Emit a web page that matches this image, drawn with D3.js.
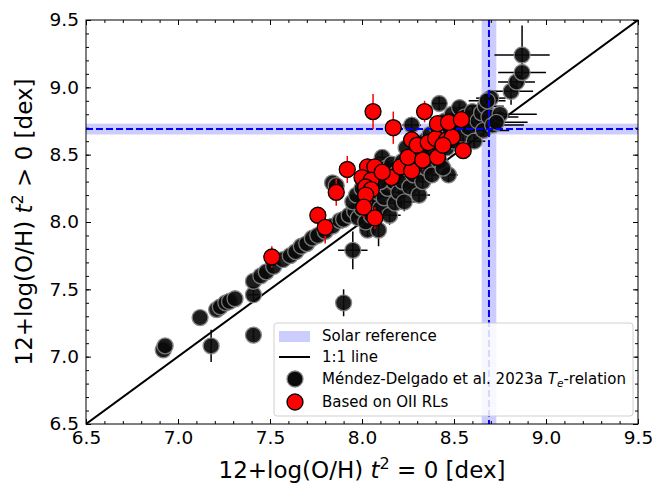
<!DOCTYPE html>
<html>
<head>
<meta charset="utf-8">
<script src="https://cdn.jsdelivr.net/npm/d3@7"></script>
<style>
  body { margin: 0; background: #fff; }
  text { font-family: "DejaVu Sans", sans-serif; }
</style>
</head>
<body>
<div id="chart-area"></div>
<script>
// data: [x, y, xerr, yerr]
var blackPoints = [
	[6.92,7.05,0,0],[6.93,7.08,0,0],[7.18,7.08,0,0.12],[7.41,7.16,0,0.04],
	[7.12,7.29,0,0],[7.21,7.35,0,0],[7.23,7.37,0,0],[7.26,7.40,0,0],
	[7.28,7.41,0,0],[7.31,7.43,0,0],[7.41,7.46,0.03,0.05],[7.41,7.56,0,0],
	[7.45,7.60,0,0],[7.48,7.63,0,0],[7.52,7.67,0,0],[7.57,7.72,0,0],
	[7.61,7.75,0,0],[7.64,7.78,0,0],[7.67,7.82,0,0],[7.70,7.84,0,0],
	[7.73,7.88,0,0],[7.76,7.90,0,0],[7.80,7.93,0,0],[7.84,7.97,0,0],
	[7.88,8.01,0,0],[7.90,7.40,0,0.1],[7.95,7.79,0.08,0.14],[8.03,7.94,0.04,0.05],
	[8.09,7.94,0,0.12],
	[7.84,8.29,0,0],[7.86,8.27,0,0.05],[7.90,8.02,0,0],[7.93,8.05,0.03,0.04],
	[7.96,8.08,0,0],[7.98,8.03,0.04,0.05],[8.00,8.10,0,0],[8.02,8.00,0.03,0.03],
	[8.04,8.12,0,0.04],[8.05,8.05,0.05,0.06],[7.95,8.15,0,0],[7.97,8.20,0,0],
	[8.00,8.25,0.03,0.03],[8.03,8.30,0,0],
	[8.07,8.15,0.04,0.05],[8.09,8.22,0,0],[8.10,8.10,0.05,0.05],[8.12,8.18,0.03,0.04],
	[8.14,8.25,0,0],[8.15,8.05,0.06,0.07],[8.17,8.30,0,0.04],[8.18,8.14,0.05,0.06],
	[8.20,8.22,0.04,0.05],[8.11,8.48,0.03,0.05],[8.13,8.40,0,0],[8.16,8.43,0.03,0.03],
	[8.19,8.36,0,0],[8.08,8.35,0,0],[8.10,8.30,0.03,0.03],
	[8.22,8.30,0.04,0.04],[8.23,8.15,0.06,0.07],[8.25,8.40,0,0],[8.26,8.26,0.05,0.05],
	[8.28,8.35,0.04,0.04],[8.29,8.50,0,0],[8.30,8.45,0.04,0.04],[8.31,8.20,0.06,0.06],
	[8.32,8.55,0,0],[8.33,8.30,0.05,0.05],[8.34,8.60,0.03,0.03],[8.27,8.72,0.05,0.06],
	[8.24,8.55,0,0],[8.35,8.40,0.05,0.05],[8.22,8.45,0,0],
	[8.36,8.50,0.04,0.04],[8.37,8.65,0,0],[8.38,8.35,0.06,0.06],[8.40,8.58,0.04,0.04],
	[8.41,8.70,0,0],[8.42,8.45,0.05,0.05],[8.43,8.62,0.04,0.04],[8.42,8.88,0.04,0.05],
	[8.45,8.75,0.05,0.04],[8.46,8.55,0,0],[8.47,8.35,0.05,0.06],[8.48,8.68,0.05,0.04],
	[8.49,8.80,0.04,0.04],[8.50,8.60,0.05,0.05],[8.44,8.40,0.04,0.04],
	[8.52,8.72,0.06,0.04],[8.53,8.85,0.05,0.04],[8.55,8.65,0.06,0.05],[8.56,8.78,0.05,0.04],
	[8.58,8.70,0.08,0.04],[8.60,8.82,0.07,0.04],[8.61,8.60,0.06,0.05],[8.63,8.75,0.1,0.04],
	[8.65,8.81,0.12,0.04],[8.66,8.68,0.14,0.04],[8.67,8.86,0.1,0.04],[8.69,8.78,0.16,0.04],
	[8.70,8.92,0.08,0.05],[8.71,8.72,0.17,0.04],[8.68,8.90,0.1,0.04],
	[8.75,8.80,0.2,0.03],[8.73,8.74,0.17,0.03],[8.81,8.97,0.12,0.1],[8.84,9.04,0.1,0.05],
	[8.87,9.11,0.13,0.05],[8.87,9.24,0.15,0.22]
];

var redPoints = [
	[7.51,7.74,0,0.08],[7.76,8.05,0.02,0.06],[7.80,7.96,0,0.12],[7.86,8.22,0.02,0.1],
	[7.92,8.39,0,0.1],[8.03,8.41,0,0.06],[8.07,8.41,0,0.06],[8.00,8.33,0.02,0.07],
	[8.05,8.31,0,0.06],[8.02,8.26,0,0.05],[8.05,8.24,0,0.1],[8.02,8.20,0.02,0.06],
	[8.01,8.11,0,0.08],[8.07,8.03,0,0.08],[8.06,8.82,0,0.13],[8.17,8.70,0.02,0.12],
	[8.34,8.82,0,0.08],[8.16,8.33,0.02,0.06],[8.21,8.41,0,0.06],[8.27,8.38,0,0.06],
	[8.25,8.48,0,0.06],[8.33,8.46,0,0.07],[8.41,8.48,0,0.06],[8.27,8.61,0,0.06],
	[8.30,8.57,0,0.05],[8.36,8.59,0,0.05],[8.40,8.62,0,0.05],[8.46,8.61,0,0.05],
	[8.49,8.63,0,0.05],[8.44,8.57,0,0.05],[8.41,8.73,0,0.05],[8.47,8.74,0,0.05],
	[8.54,8.76,0,0.05],[8.55,8.53,0,0.06],[8.11,8.37,0,0.05]
];

var solarValue = 8.69;
var solarErr = 0.04;
var oneToOne = [6.5, 9.5];
var majorTicks = [6.5, 7.0, 7.5, 8.0, 8.5, 9.0, 9.5];
var minorTicks = d3.range(65, 96).map(function(d){ return d / 10; });

var margin = {top: 20, left: 86, bottom: 59, right: 30};
var width = 668 - margin.left - margin.right;
var height = 483 - margin.top - margin.bottom;

var svg = d3.select("#chart-area")
	.append("svg")
		.attr("width", 668)
		.attr("height", 483);
var g = svg.append("g")
	.attr("transform", "translate(" + margin.left + ", " + margin.top + ")");

var x = d3.scaleLinear().domain([6.5, 9.5]).range([0, width]);
var y = d3.scaleLinear().domain([6.5, 9.5]).range([height, 0]);

g.append("clipPath").attr("id", "clip")
	.append("rect").attr("width", width).attr("height", height);
var plot = g.append("g").attr("clip-path", "url(#clip)");

// solar bands
plot.append("rect")
	.attr("x", 0).attr("width", width)
	.attr("y", y(solarValue + solarErr))
	.attr("height", y(solarValue - solarErr) - y(solarValue + solarErr))
	.attr("fill", "#ccccff");
plot.append("rect")
	.attr("y", 0).attr("height", height)
	.attr("x", x(solarValue - solarErr))
	.attr("width", x(solarValue + solarErr) - x(solarValue - solarErr))
	.attr("fill", "#ccccff");

// 1:1 line
plot.append("line")
	.attr("x1", x(oneToOne[0])).attr("y1", y(oneToOne[0]))
	.attr("x2", x(oneToOne[1])).attr("y2", y(oneToOne[1]))
	.attr("stroke", "#000").attr("stroke-width", 2);

function drawSeries(data, barColor, fill, edge, opacity) {
	var bars = plot.append("g").attr("stroke", barColor).attr("stroke-width", 1.5);
	data.forEach(function(d){
		if (d[2] > 0) bars.append("line")
			.attr("x1", x(d[0] - d[2])).attr("x2", x(d[0] + d[2]))
			.attr("y1", y(d[1])).attr("y2", y(d[1]));
		if (d[3] > 0) bars.append("line")
			.attr("x1", x(d[0])).attr("x2", x(d[0]))
			.attr("y1", y(d[1] - d[3])).attr("y2", y(d[1] + d[3]));
	});
	plot.append("g").selectAll("circle")
		.data(data)
		.enter()
		.append("circle")
			.attr("cx", function(d){ return x(d[0]); })
			.attr("cy", function(d){ return y(d[1]); })
			.attr("r", 8)
			.attr("fill", fill)
			.attr("stroke", edge)
			.attr("stroke-width", 1.3)
			.attr("opacity", opacity);
}

drawSeries(blackPoints, "#000", "#0a0a0a", "#808080", 0.92);

// solar dashed lines over black points
plot.append("line")
	.attr("x1", 0).attr("x2", width)
	.attr("y1", y(solarValue)).attr("y2", y(solarValue))
	.attr("stroke", "#0000ff").attr("stroke-width", 2).attr("stroke-dasharray", "7,3");
plot.append("line")
	.attr("x1", x(solarValue)).attr("x2", x(solarValue))
	.attr("y1", 0).attr("y2", height)
	.attr("stroke", "#0000ff").attr("stroke-width", 2).attr("stroke-dasharray", "7,3");

drawSeries(redPoints, "#ff0000", "#ff0000", "#000", 1);

// axes, inward ticks on all sides
function addAxis(axisFn, scale, transform, labels) {
	var major = axisFn(scale).tickValues(majorTicks).tickSizeOuter(0).tickSizeInner(-5)
		.tickPadding(7).tickFormat(labels ? d3.format(".1f") : "");
	var minor = axisFn(scale).tickValues(minorTicks).tickSizeOuter(0).tickSizeInner(-3).tickFormat("");
	var a = g.append("g").attr("transform", transform).call(minor);
	a.select(".domain").remove();
	var b = g.append("g").attr("transform", transform).call(major);
	b.select(".domain").remove();
	b.selectAll("text").attr("font-size", "18.5px").attr("fill", "#000")
		.attr("font-family", "DejaVu Sans");
	return b;
}
addAxis(d3.axisBottom, x, "translate(0," + height + ")", true);
addAxis(d3.axisLeft, y, "translate(0,0)", true);
addAxis(d3.axisTop, x, "translate(0,0)", false);
addAxis(d3.axisRight, y, "translate(" + width + ",0)", false);

g.append("rect")
	.attr("width", width).attr("height", height)
	.attr("fill", "none").attr("stroke", "#000").attr("stroke-width", 1);

// X label
var xl = g.append("text")
	.attr("x", width / 2)
	.attr("y", height + 54)
	.attr("font-size", "23px")
	.attr("text-anchor", "middle");
xl.append("tspan").text("12+log(O/H) ");
xl.append("tspan").attr("font-style", "italic").text("t");
xl.append("tspan").attr("font-size", "16px").attr("dy", -9).text("2");
xl.append("tspan").attr("dy", 9).text(" = 0 [dex]");

// Y label
var yl = g.append("text")
	.attr("x", -height / 2)
	.attr("y", -54)
	.attr("font-size", "23px")
	.attr("text-anchor", "middle")
	.attr("transform", "rotate(-90)");
yl.append("tspan").text("12+log(O/H) ");
yl.append("tspan").attr("font-style", "italic").text("t");
yl.append("tspan").attr("font-size", "16px").attr("dy", -9).text("2");
yl.append("tspan").attr("dy", 9).text(" > 0 [dex]");

// legend
var lg = svg.append("g").attr("transform", "translate(274,323)");
lg.append("rect")
	.attr("width", 359).attr("height", 93).attr("rx", 3)
	.attr("fill", "#fff").attr("fill-opacity", 0.85)
	.attr("stroke", "#d0d0d0");
var rows = [13, 34, 56, 79];
lg.append("rect").attr("x", 5).attr("y", rows[0] - 5).attr("width", 31).attr("height", 11).attr("fill", "#ccccff");
lg.append("line").attr("x1", 5).attr("x2", 36).attr("y1", rows[1]).attr("y2", rows[1])
	.attr("stroke", "#000").attr("stroke-width", 2);
[[rows[2], "#000", "#0a0a0a", "#808080"], [rows[3], "#ff0000", "#ff0000", "#000"]].forEach(function(r){
	lg.append("line").attr("x1", 16).attr("x2", 26).attr("y1", r[0]).attr("y2", r[0]).attr("stroke", r[1]).attr("stroke-width", 1.5);
	lg.append("line").attr("x1", 21).attr("x2", 21).attr("y1", r[0] - 5).attr("y2", r[0] + 5).attr("stroke", r[1]).attr("stroke-width", 1.5);
	lg.append("circle").attr("cx", 21).attr("cy", r[0]).attr("r", 8)
		.attr("fill", r[2]).attr("stroke", r[3]).attr("stroke-width", 1.3);
});
var lt = lg.append("g").attr("font-size", "15px");
lt.append("text").attr("x", 48).attr("y", rows[0] + 5).text("Solar reference");
lt.append("text").attr("x", 48).attr("y", rows[1] + 5).text("1:1 line");
var t3 = lt.append("text").attr("x", 48).attr("y", rows[2] + 5);
t3.append("tspan").text("Méndez-Delgado et al. 2023a ");
t3.append("tspan").attr("font-style", "italic").text("T");
t3.append("tspan").attr("font-style", "italic").attr("font-size", "10.5px").attr("dy", 3).text("e");
t3.append("tspan").attr("dy", -3).text("-relation");
lt.append("text").attr("x", 48).attr("y", rows[3] + 5).text("Based on OII RLs");
</script>
</body>
</html>
